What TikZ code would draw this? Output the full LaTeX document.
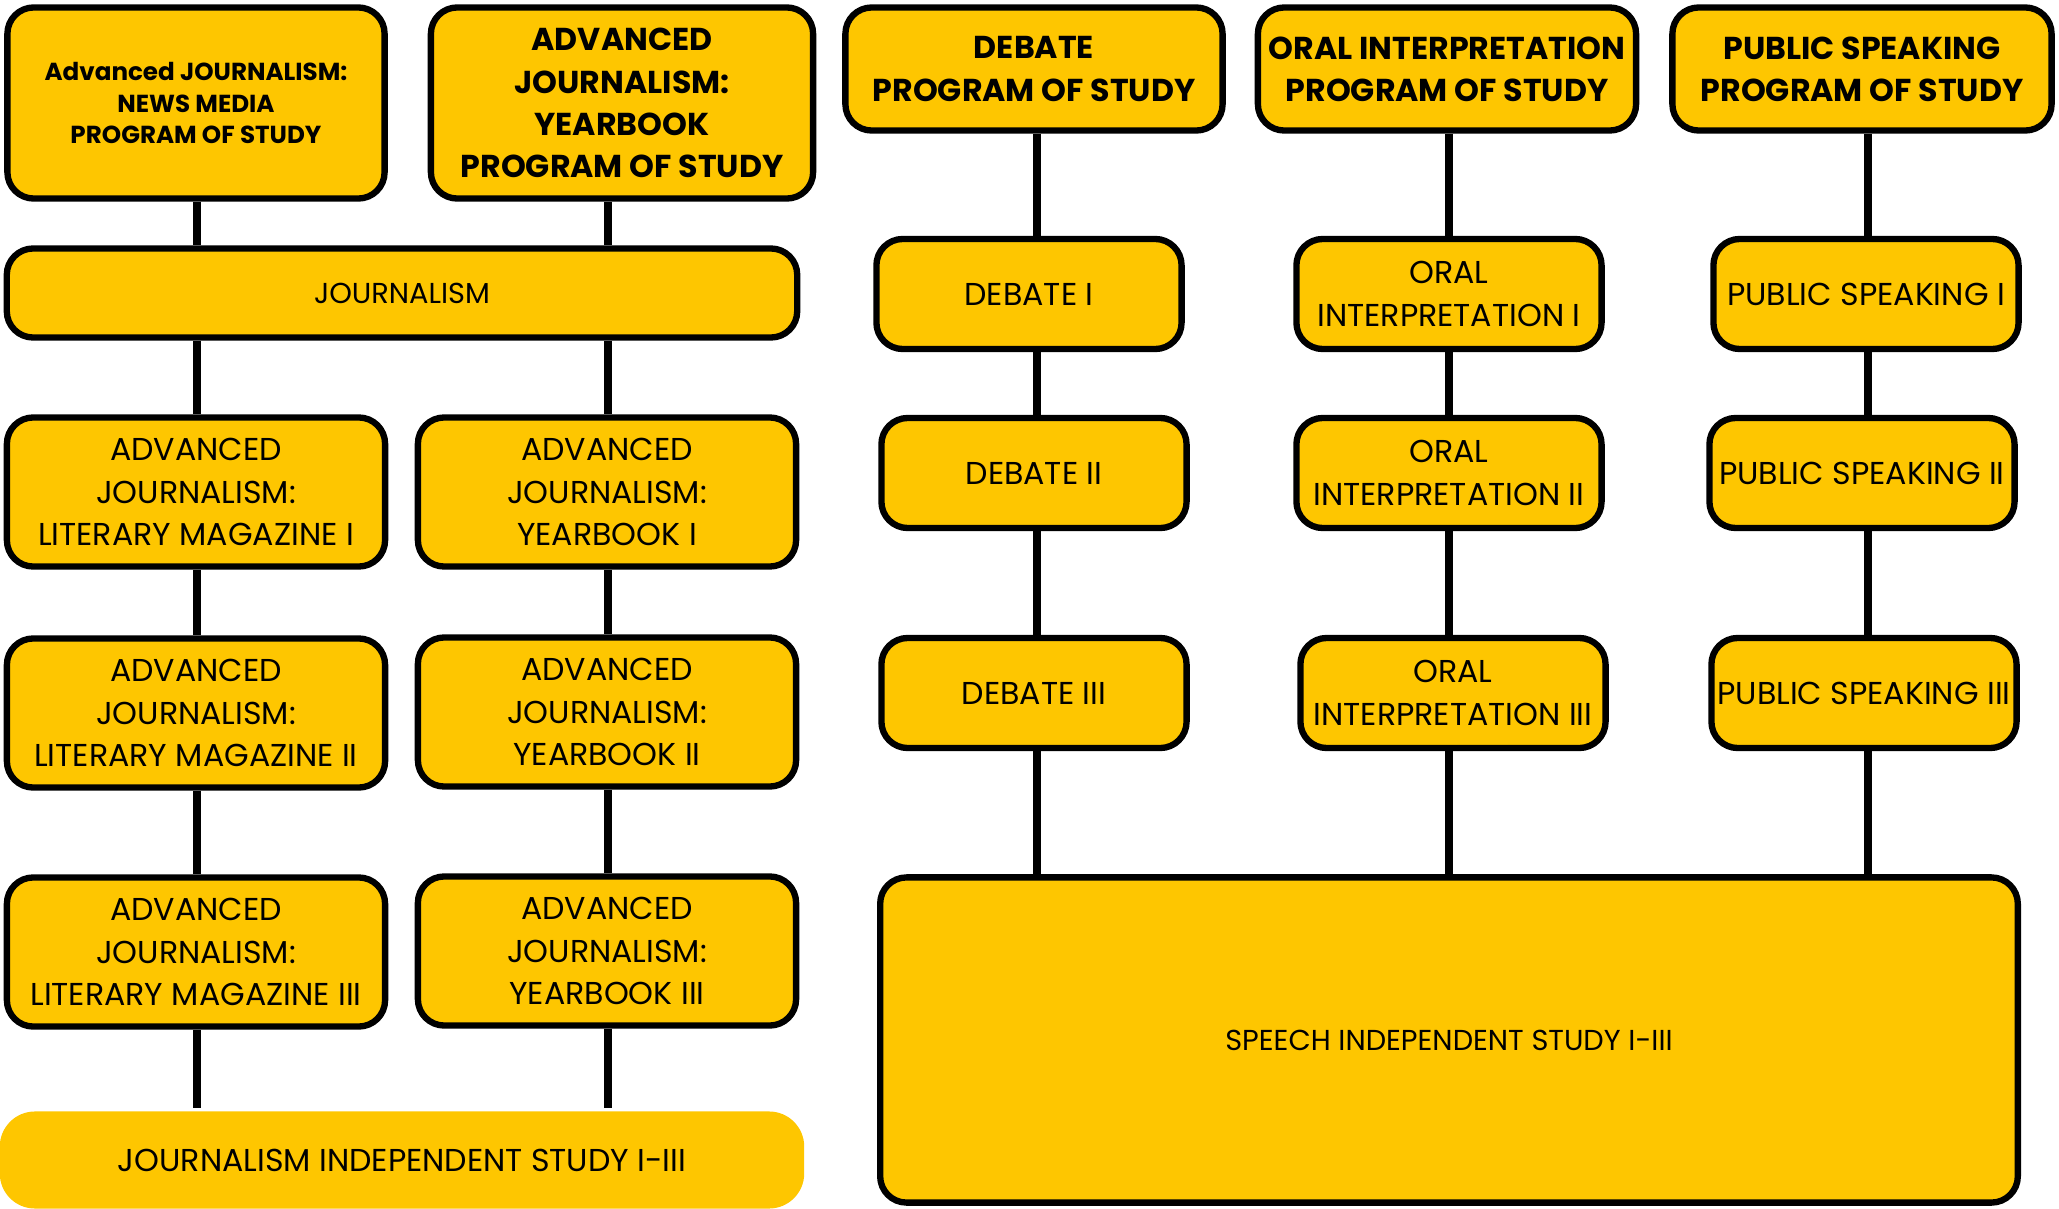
\documentclass[tikz,border=0pt]{standalone}
\usepackage{fontspec}
\setmainfont{Poppins}

\definecolor{gold}{HTML}{FEC600}

\tikzset{
	course/.style={draw=black, line width=1.8pt, fill=gold, rounded corners=7.5pt,
		align=center, inner sep=1pt, font=\fontsize{9}{12}\selectfont},
	program/.style={course, font=\bfseries\fontsize{9}{12}\selectfont},
	widebox/.style={minimum width=3.78cm, minimum height=1.49cm},
	smallbox/.style={minimum width=3.05cm, minimum height=1.10cm},
	link/.style={line width=2.3pt},
}

\begin{document}
\begin{tikzpicture}[x=0.01cm,y=-0.01cm]
	\useasboundingbox (0,0) rectangle (2059,1209);

	% Journalism side
	\node[program, minimum width=3.77cm, minimum height=1.91cm,
		font=\bfseries\fontsize{7}{9}\selectfont] (news) at (196,103)
		{Advanced JOURNALISM:\\NEWS MEDIA\\PROGRAM OF STUDY};
	\node[program, minimum width=3.82cm, minimum height=1.91cm] (ybprog) at (622,103)
		{ADVANCED\\JOURNALISM:\\YEARBOOK\\PROGRAM OF STUDY};
	\node[course, minimum width=7.90cm, minimum height=0.89cm,
		font=\fontsize{8.2}{10}\selectfont] (jour) at (402,293) {JOURNALISM};

	\node[course, widebox] (lm1) at (196,492) {ADVANCED\\JOURNALISM:\\LITERARY MAGAZINE I};
	\node[course, widebox] (lm2) at (196,713) {ADVANCED\\JOURNALISM:\\LITERARY MAGAZINE II};
	\node[course, widebox] (lm3) at (196,952) {ADVANCED\\JOURNALISM:\\LITERARY MAGAZINE III};
	\node[course, widebox] (yb1) at (607,492) {ADVANCED\\JOURNALISM:\\YEARBOOK I};
	\node[course, widebox] (yb2) at (607,712) {ADVANCED\\JOURNALISM:\\YEARBOOK II};
	\node[course, widebox] (yb3) at (607,951) {ADVANCED\\JOURNALISM:\\YEARBOOK III};

	\node[course, draw=none, rounded corners=10pt, minimum width=8.04cm, minimum height=0.97cm]
		(jis) at (402,1160) {JOURNALISM INDEPENDENT STUDY I-III};

	% Speech side
	\node[program, minimum width=3.77cm, minimum height=1.23cm] (debprog) at (1034,69)
		{DEBATE\\PROGRAM OF STUDY};
	\node[program, minimum width=3.78cm, minimum height=1.23cm] (oralprog) at (1447,69)
		{ORAL INTERPRETATION\\PROGRAM OF STUDY};
	\node[program, minimum width=3.79cm, minimum height=1.23cm] (psprog) at (1862,69)
		{PUBLIC SPEAKING\\PROGRAM OF STUDY};

	\node[course, smallbox] (deb1) at (1029,294) {DEBATE I};
	\node[course, smallbox] (deb2) at (1034,473) {DEBATE II};
	\node[course, smallbox] (deb3) at (1034,693) {DEBATE III};
	\node[course, smallbox] (oral1) at (1449,294) {ORAL\\INTERPRETATION I};
	\node[course, smallbox] (oral2) at (1449,473) {ORAL\\INTERPRETATION II};
	\node[course, smallbox] (oral3) at (1453,693) {ORAL\\INTERPRETATION III};
	\node[course, smallbox] (ps1) at (1866,294) {PUBLIC SPEAKING I};
	\node[course, smallbox] (ps2) at (1862,473) {PUBLIC SPEAKING II};
	\node[course, smallbox] (ps3) at (1864,693) {PUBLIC SPEAKING III};

	\node[course, minimum width=11.37cm, minimum height=3.25cm,
		font=\fontsize{8.2}{10}\selectfont] (sis) at (1449,1040) {SPEECH INDEPENDENT STUDY I-III};

	% the lines
	\coordinate (lmcol) at (197,0);
	\coordinate (ybcol) at (608,0);
	\coordinate (debcol) at (1037,0);
	\coordinate (oralcol) at (1449,0);
	\coordinate (pscol) at (1868,0);

	\draw[link] (news.south -| lmcol) -- (jour.north -| lmcol);
	\draw[link] (ybprog.south -| ybcol) -- (jour.north -| ybcol);
	\draw[link] (jour.south -| lmcol) -- (lm1.north -| lmcol);
	\draw[link] (jour.south -| ybcol) -- (yb1.north -| ybcol);
	\draw[link] (lm1.south -| lmcol) -- (lm2.north -| lmcol);
	\draw[link] (lm2.south -| lmcol) -- (lm3.north -| lmcol);
	\draw[link] (lm3.south -| lmcol) -- (jis.north -| lmcol);
	\draw[link] (yb1.south -| ybcol) -- (yb2.north -| ybcol);
	\draw[link] (yb2.south -| ybcol) -- (yb3.north -| ybcol);
	\draw[link] (yb3.south -| ybcol) -- (jis.north -| ybcol);

	\draw[link] (debprog.south -| debcol) -- (deb1.north -| debcol);
	\draw[link] (deb1.south -| debcol) -- (deb2.north -| debcol);
	\draw[link] (deb2.south -| debcol) -- (deb3.north -| debcol);
	\draw[link] (deb3.south -| debcol) -- (sis.north -| debcol);
	\draw[link] (oralprog.south -| oralcol) -- (oral1.north -| oralcol);
	\draw[link] (oral1.south -| oralcol) -- (oral2.north -| oralcol);
	\draw[link] (oral2.south -| oralcol) -- (oral3.north -| oralcol);
	\draw[link] (oral3.south -| oralcol) -- (sis.north -| oralcol);
	\draw[link] (psprog.south -| pscol) -- (ps1.north -| pscol);
	\draw[link] (ps1.south -| pscol) -- (ps2.north -| pscol);
	\draw[link] (ps2.south -| pscol) -- (ps3.north -| pscol);
	\draw[link] (ps3.south -| pscol) -- (sis.north -| pscol);
\end{tikzpicture}
\end{document}
